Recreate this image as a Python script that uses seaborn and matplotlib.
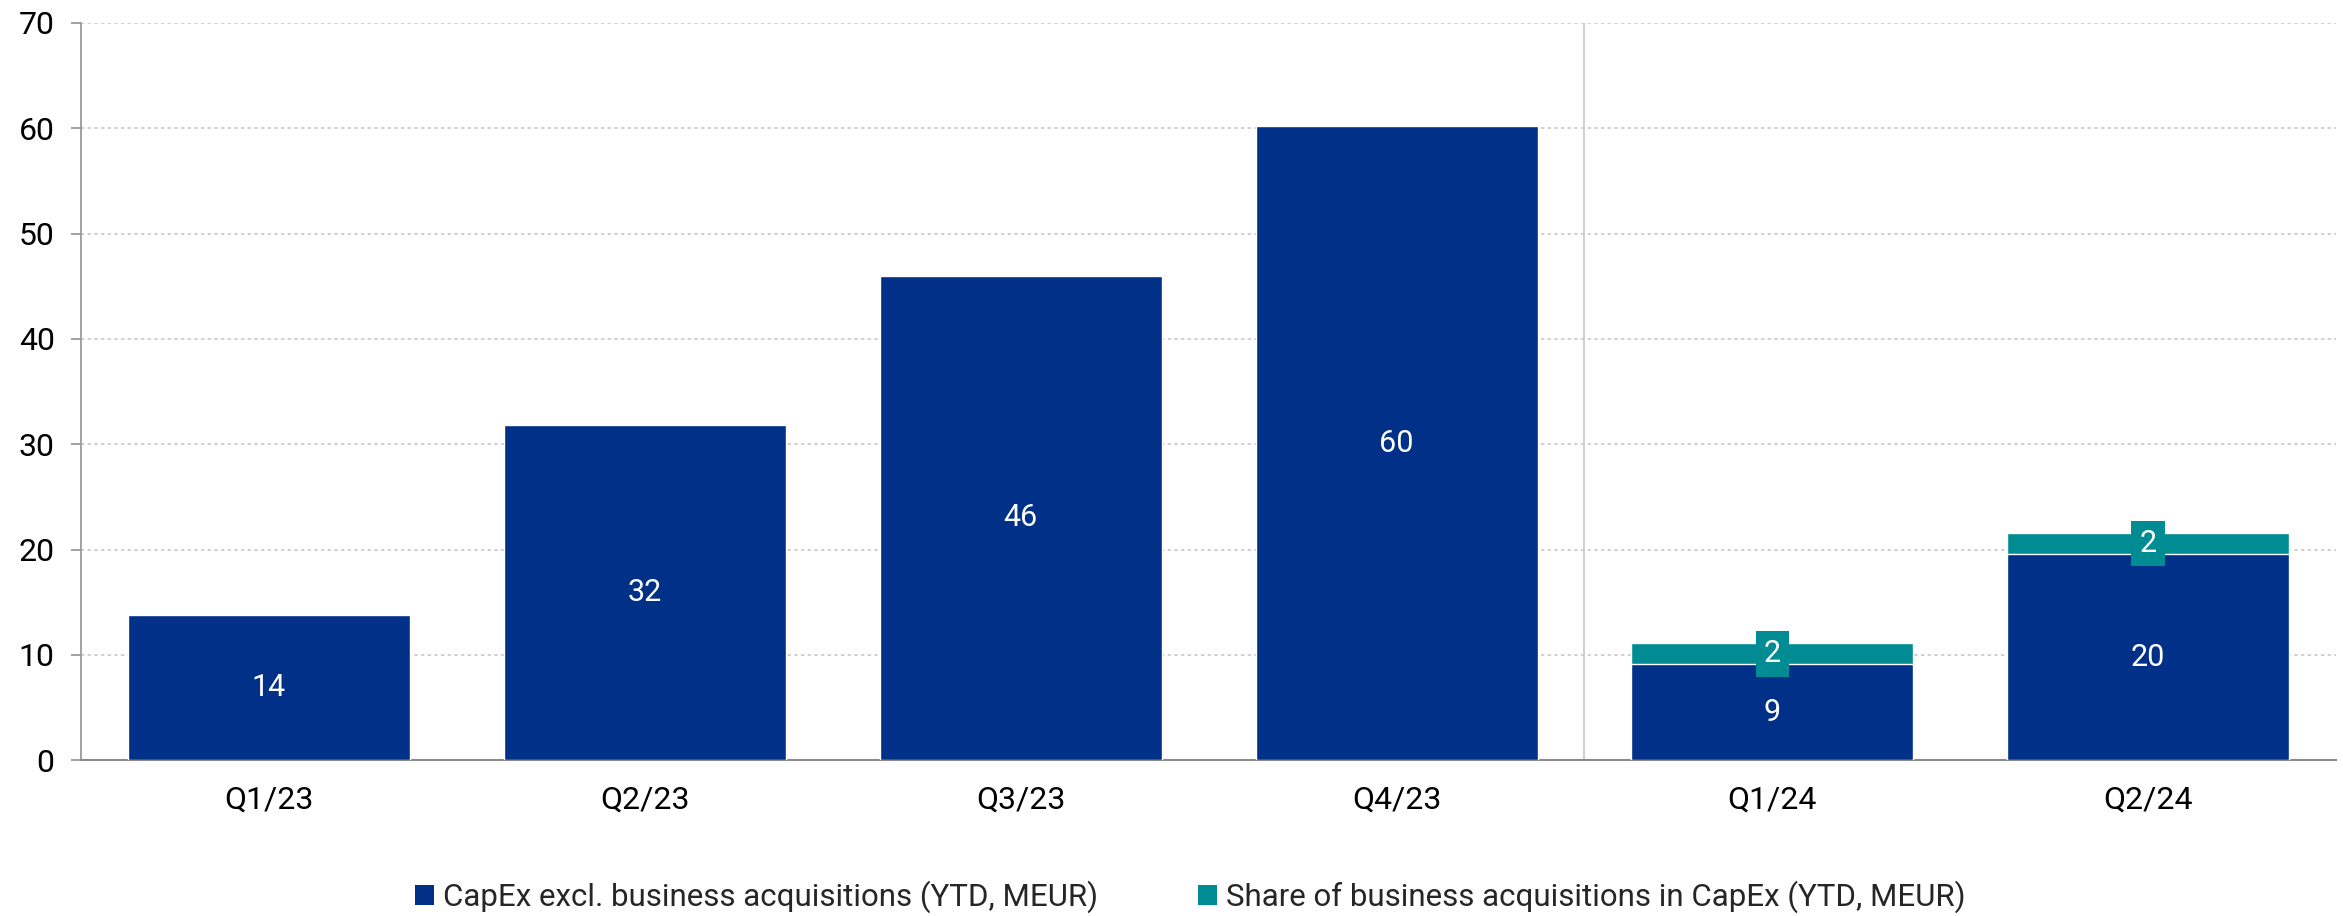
import numpy as np
import pandas as pd
import matplotlib
matplotlib.use("Agg")
import matplotlib.pyplot as plt
from matplotlib.patches import Patch
import seaborn as sns

# Quarterly CapEx figures (YTD, MEUR)
quarters = ["Q1/23", "Q2/23", "Q3/23", "Q4/23", "Q1/24", "Q2/24"]
capex_excl = [13.8, 31.8, 46.0, 60.2, 9.1, 19.6]
acq_share = [np.nan, np.nan, np.nan, np.nan, 2.0, 2.0]
y_ticks = [0, 10, 20, 30, 40, 50, 60, 70]

series_names = [
    "CapEx excl. business acquisitions (YTD, MEUR)",
    "Share of business acquisitions in CapEx (YTD, MEUR)",
]
BLUE = "#003087"
TEAL = "#008C92"

sns.set_theme(style="white")
plt.rcParams["font.family"] = ["Roboto", "DejaVu Sans"]

df = pd.DataFrame({"quarter": quarters, "base": capex_excl, "acq": acq_share})
df["total"] = df["base"] + df["acq"]

fig = plt.figure(figsize=(23.43, 9.16), dpi=100)
ax = fig.add_axes([0.0346, 0.170, 0.9625, 0.805])

# stacked bars: totals in teal underneath, the base series drawn over them
sns.barplot(data=df, x="quarter", y="total", order=quarters, color=TEAL,
            saturation=1, width=0.75, ax=ax, zorder=3)
sns.barplot(data=df, x="quarter", y="base", order=quarters, color=BLUE,
            saturation=1, width=0.75, ax=ax, zorder=3)

ax.set_ylim(0, 70)
ax.set_xlim(-0.5, len(quarters) - 0.5)
ax.set_yticks(y_ticks)
ax.set_xlabel("")
ax.set_ylabel("")

# value labels on the base series
base_container = ax.containers[-1]
ax.bar_label(base_container, fmt="{:.0f}", label_type="center",
             color="white", fontsize=22, zorder=5)

# labels for the acquisition share segments, on a teal tag
for i, (b, a) in enumerate(zip(capex_excl, acq_share)):
    if np.isnan(a):
        continue
    ax.text(i, b + a / 2, f"{a:.0f}", ha="center", va="center",
            color="white", fontsize=22, zorder=6,
            bbox=dict(facecolor=TEAL, edgecolor="none", pad=6))

# separator between years
ax.axvline(3.5, color="#d0d0d0", linewidth=1.5, zorder=1)

ax.grid(axis="y", color="#c8c8c8", linestyle=(0, (2, 2)), linewidth=1.2, zorder=0)
ax.set_axisbelow(True)

for side in ["top", "right"]:
    ax.spines[side].set_visible(False)
ax.spines["left"].set_color("#9a9a9a")
ax.spines["left"].set_linewidth(1.3)
ax.spines["bottom"].set_color("#8a8a8a")
ax.spines["bottom"].set_linewidth(1.5)

ax.tick_params(axis="y", which="major", left=True, length=7, width=1.3,
               color="#9a9a9a", pad=12, labelsize=23, labelcolor="black")
ax.tick_params(axis="x", bottom=False, pad=12, labelsize=23, labelcolor="black")

handles = [Patch(facecolor=BLUE, edgecolor="none"),
           Patch(facecolor=TEAL, edgecolor="none")]
fig.legend(handles, series_names, loc="center", bbox_to_anchor=(0.508, 0.021),
           ncol=2, frameon=False, fontsize=22.5, handlelength=0.6,
           handleheight=0.6, handletextpad=0.3, columnspacing=3.2)

fig.savefig("out.png", dpi=100)
